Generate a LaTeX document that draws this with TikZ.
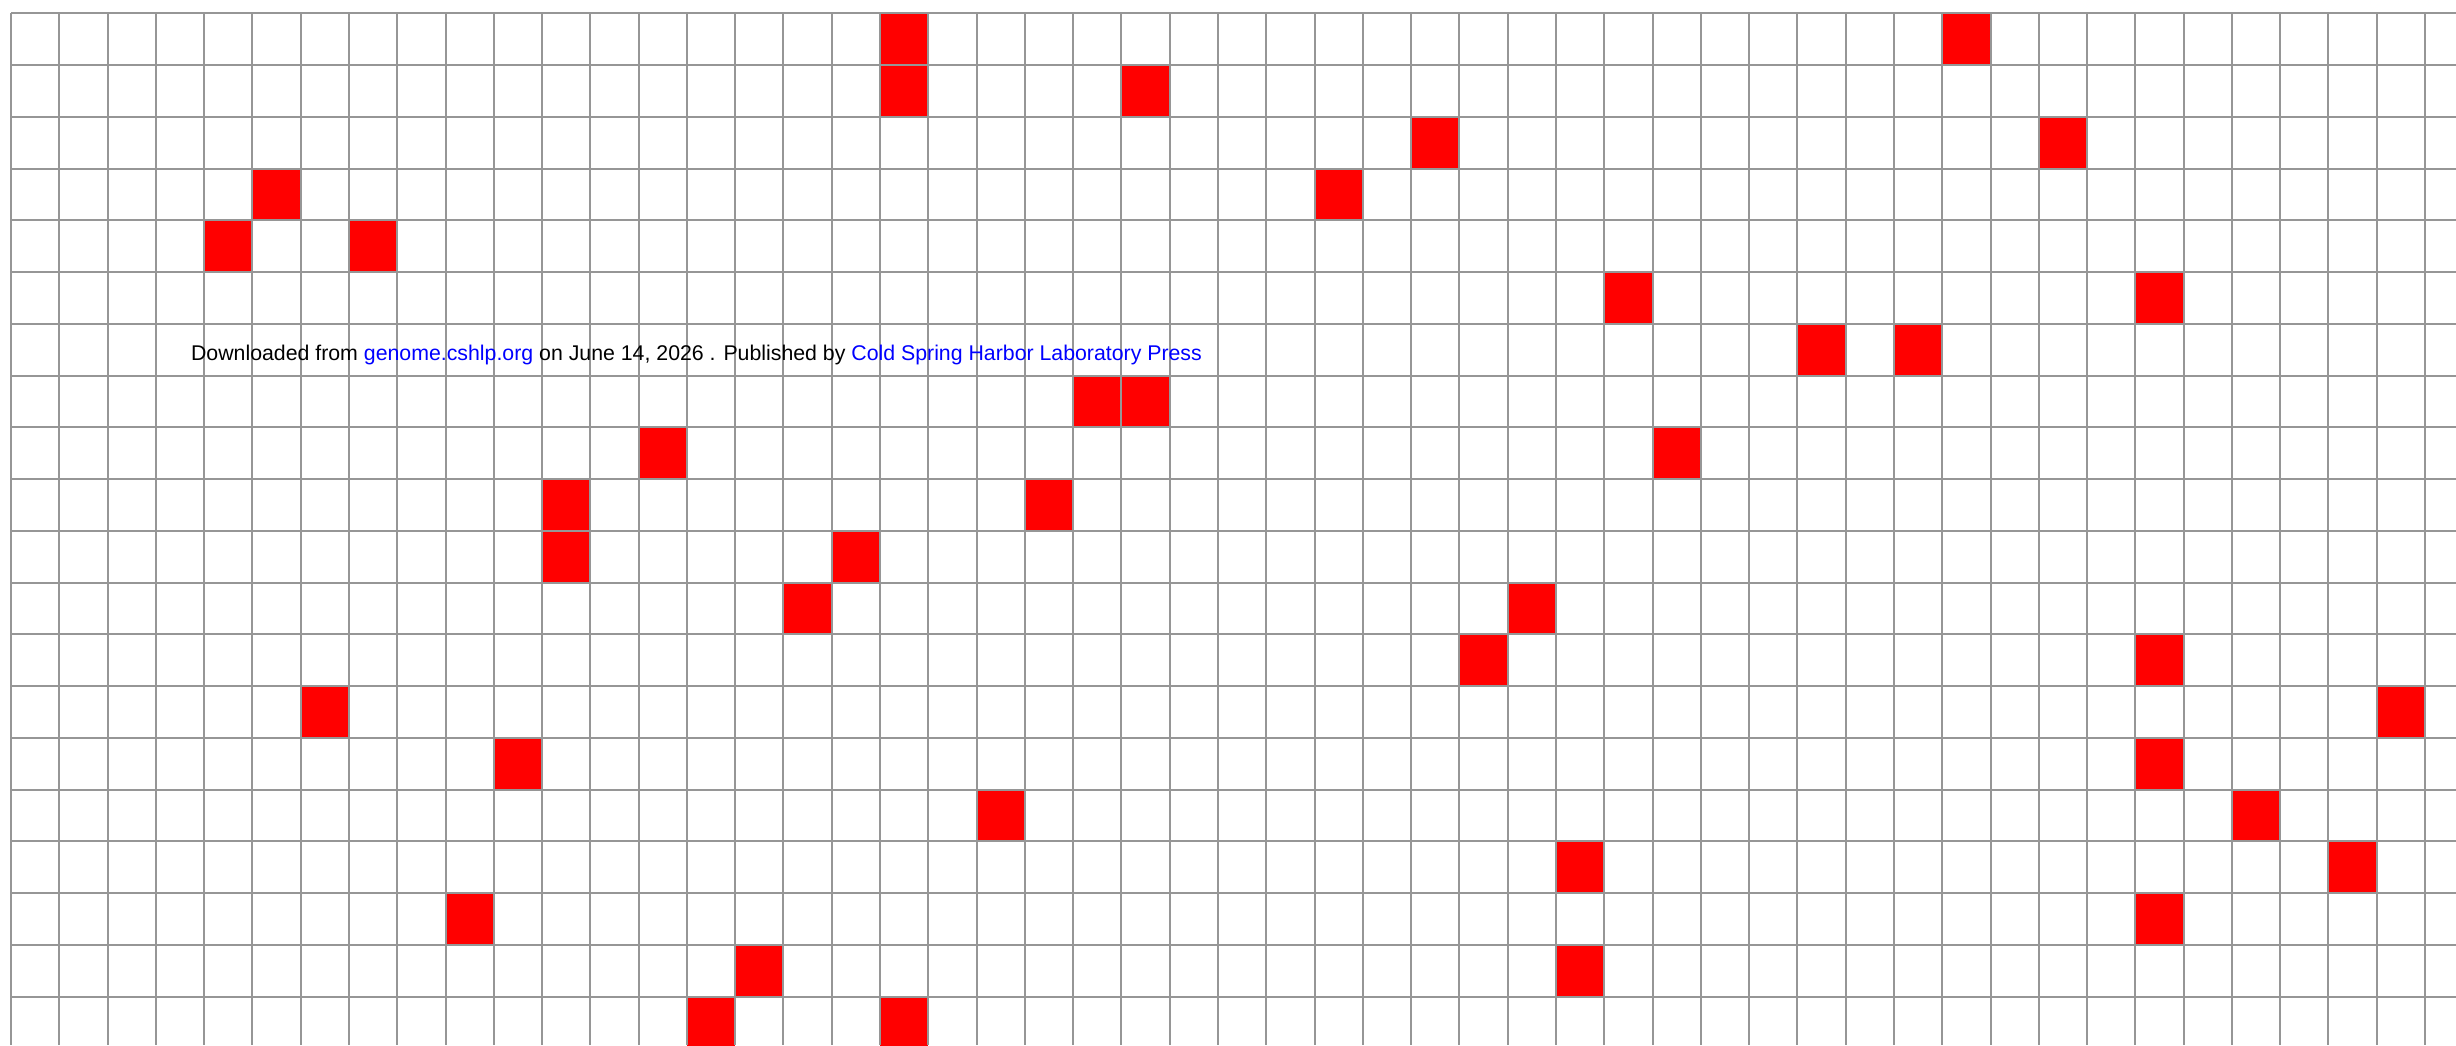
\documentclass[tikz,border=0pt]{standalone}
\usepackage{fontspec}
\setmainfont{Liberation Sans}
\definecolor{gridgray}{RGB}{150,150,150}
\definecolor{cellred}{RGB}{255,0,0}
\definecolor{linkblue}{RGB}{0,0,255}
\tikzset{
  gridline/.style={draw=gridgray, line width=1pt},
  hitcell/.style={fill=cellred},
}
\begin{document}
\begin{tikzpicture}[x=0.5pt, y=-0.5pt]
  % page
  \useasboundingbox (0,0) rectangle (2456,1045);
  \clip (0,0) rectangle (2456,1045);
  % cell size and grid origin
  \def\cellw{48.28}
  \def\cellh{51.76}
  \def\gridx{11}
  \def\gridy{13.3}
  % red cells (column/row)
  \foreach \c/\r in {18/0, 40/0, 18/1, 23/1, 29/2, 42/2, 5/3, 27/3, 4/4, 7/4,
      33/5, 44/5, 37/6, 39/6, 22/7, 23/7, 13/8, 34/8, 11/9, 21/9,
      11/10, 17/10, 16/11, 31/11, 30/12, 44/12, 6/13, 49/13, 10/14, 44/14,
      20/15, 46/15, 32/16, 48/16, 9/17, 44/17, 15/18, 32/18, 14/19, 18/19}
    \fill[hitcell] ({\gridx+\c*\cellw},{\gridy+\r*\cellh}) rectangle ++(\cellw,\cellh);
  % grid lines
  \foreach \i in {0,...,50}
    \draw[gridline] ({\gridx+\i*\cellw},\gridy) -- ({\gridx+\i*\cellw},1045);
  \foreach \j in {0,...,19}
    \draw[gridline] (\gridx,{\gridy+\j*\cellh}) -- (2456,{\gridy+\j*\cellh});
  % download note
  \node[anchor=base west, inner sep=0pt, font=\fontsize{10.65pt}{12pt}\selectfont] (note) at (190.7,360)
    {Downloaded from {\color{linkblue}genome.cshlp.org} on June 14, 2026 . Published by {\color{linkblue}Cold Spring Harbor Laboratory Press}};
\end{tikzpicture}
\end{document}
